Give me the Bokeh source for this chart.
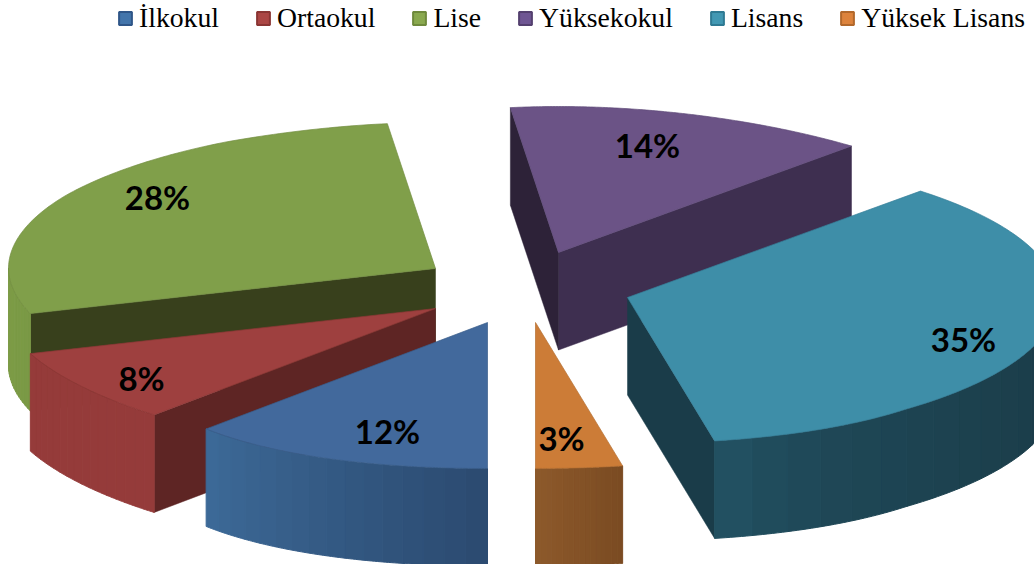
import numpy as np
from bokeh.plotting import figure
from bokeh.models import Range1d, Legend, LegendItem, ColumnDataSource
from bokeh.core.properties import value
from bokeh.embed import file_html
from bokeh.resources import INLINE

# data
categories = ["İlkokul", "Ortaokul", "Lise", "Yüksekokul", "Lisans", "Yüksek Lisans"]
percent = [12, 8, 28, 14, 35, 3]

# styles
top_colors = ["#42699c", "#9e403f", "#809f4a", "#6b5386", "#3e8ea8", "#cc7c37"]
edge_colors = ["#3a5d8a", "#8c3837", "#728e42", "#5f4a78", "#37809a", "#b56e30"]
legend_fill = ["#4375ab", "#ab4644", "#8aa94f", "#6f5693", "#4298b3", "#dd833c"]
legend_line = ["#2f5688", "#8a3533", "#6f8a3c", "#54406f", "#2f7a93", "#b2682b"]
wall_left = ["#3d6a98", "#953b3a", "#7d9c47", "#3e2f50", "#25596c", "#8d592b"]
wall_right = ["#2b4a70", "#953b3a", "#7a9945", "#3e2f50", "#1a3b47", "#7a4b22"]
shade_power = [1, 1, 1, 1, 0.35, 1]
radial_colors = [None, "#5e2524", "#38401c", "#3e2f50", "#1a3c49", None]
back_radial_color = "#2d2238"

# layout in the picture's pixels
apex_x = [487, 435, 435, 558, 627, 535]
apex_y = [322, 308, 268, 252, 297, 322]
b_radius = 146
depth = 97.5
knot_t = [0, 43.2, 72, 90, 120, 150, 172.8, 223.2, 270, 320, 349.2, 360]
knot_a = [465, 411, 426, 427, 427, 420, 384, 428, 430, 432, 465, 465]
outer_visible = [(0, 1), (0, 1), (0, 0.18), None, (0.376, 1), (0, 1)]
radial_edge = [None, 0, 0, 1, 1, None]
label_x = [387, 141, 157, 647, 963, 561]
label_y = [430, 377, 196, 144, 338, 437]
draw_order = [2, 3, 4, 1, 5, 0]

def rim(theta, ox, oy, dy=0.0):
    th = np.radians(theta)
    a = np.interp(theta, knot_t, knot_a)
    return ox - a * np.sin(th), oy + b_radius * np.cos(th) + dy

def mix(c1, c2, f):
    v1 = [int(c1[i:i+2], 16) for i in (1, 3, 5)]
    v2 = [int(c2[i:i+2], 16) for i in (1, 3, 5)]
    return "#%02x%02x%02x" % tuple(int(round(x + (y - x) * f)) for x, y in zip(v1, v2))

p = figure(width=1034, height=564, output_backend="svg", toolbar_location=None,
           x_range=Range1d(0, 1034), y_range=Range1d(564, 0),
           x_axis_type=None, y_axis_type=None, min_border=0,
           outline_line_color=None, background_fill_color="white")
p.grid.visible = False

cum = np.cumsum([0] + percent) * 3.6
for i in draw_order:
    t0, t1 = cum[i], cum[i + 1]
    ox, oy = apex_x[i], apex_y[i]
    if radial_colors[i]:
        edge = t1 if radial_edge[i] else t0
        ex, ey = rim(edge, ox, oy)
        p.patch([ox, ex, ex, ox], [oy, ey, ey + depth, oy + depth],
                fill_color=radial_colors[i], line_color=radial_colors[i], line_width=0.5)
    if i == 3:
        ex, ey = rim(t0, ox, oy)
        p.patch([ox, ex, ex, ox], [oy, ey, ey + depth, oy + depth],
                fill_color=back_radial_color, line_color=back_radial_color, line_width=0.5)
    if outer_visible[i]:
        f0, f1 = outer_visible[i]
        n = 16
        ts = t0 + (t1 - t0) * np.linspace(f0, f1, n + 1)
        for k in range(n):
            seg = np.linspace(ts[k], ts[k + 1], 8)
            xs, ys = rim(seg, ox, oy)
            xb, yb = rim(seg[::-1], ox, oy, depth)
            c = mix(wall_left[i], wall_right[i], (1 - (k + 0.5) / n) ** shade_power[i])
            p.patch(np.r_[xs, xb], np.r_[ys, yb], fill_color=c, line_color=c, line_width=1)
    ts = np.linspace(t0, t1, 120)
    xs, ys = rim(ts, ox, oy)
    p.patch(np.r_[ox, xs], np.r_[oy, ys], fill_color=top_colors[i],
            line_color=edge_colors[i], line_width=0.7)

# legend: off-range rows, so that only the legend shows their swatch
items = []
for i, name in enumerate(categories):
    r = p.quad(left=[np.nan], right=[np.nan], top=[np.nan], bottom=[np.nan],
               fill_color=legend_fill[i], line_color=legend_line[i], line_width=2)
    items.append(LegendItem(label=value(name), renderers=[r]))
legend = Legend(items=items, orientation="horizontal", location=(117, 530),
                background_fill_alpha=0, border_line_color=None, padding=0, margin=0,
                spacing=36, glyph_width=16, glyph_height=16, label_standoff=6,
                label_text_font="Liberation Serif", label_text_font_size="27.7px",
                label_text_color="#000000", label_height=24)
p.add_layout(legend, "center")

src = ColumnDataSource(dict(x=label_x, y=label_y, t=[f"{v}%" for v in percent]))
p.text("x", "y", text="t", source=src, text_font=value("Lato"), text_font_style="bold",
       text_font_size="33px", text_align="center", text_baseline="middle", text_color="#000000")

open("out.html", "w").write(file_html(p, INLINE))
